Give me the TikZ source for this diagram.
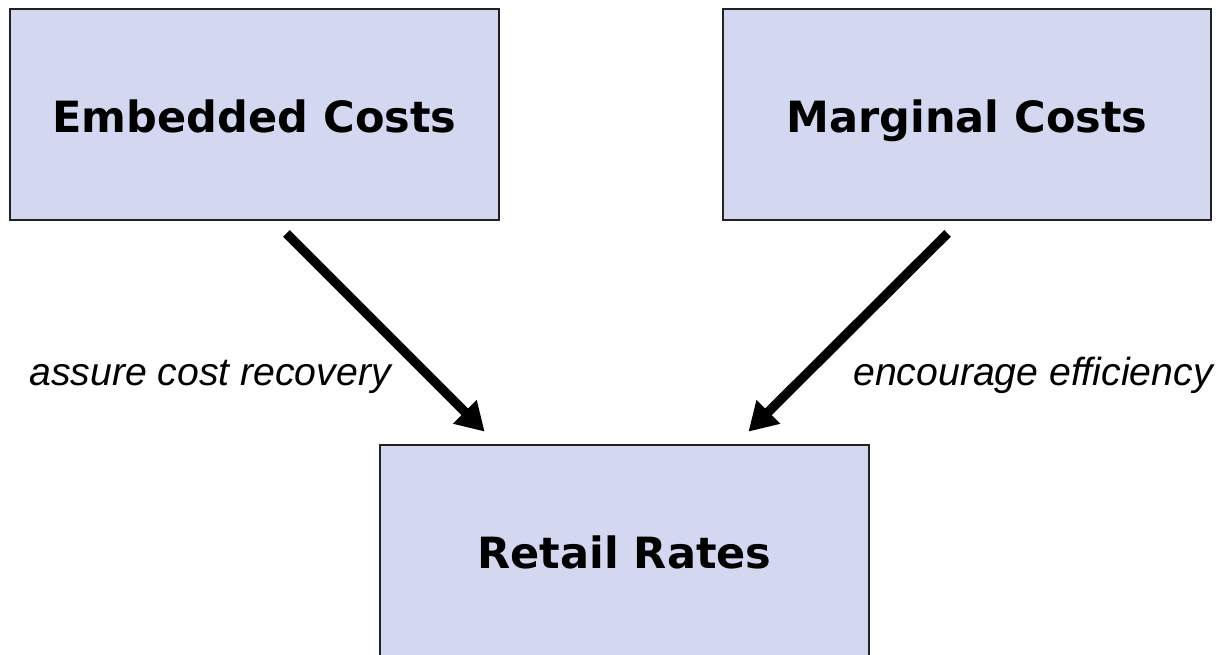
\documentclass[tikz,border=0pt]{standalone}
\usepackage{fontspec}
\setsansfont{DejaVu Sans}
\newfontfamily\notefont{Liberation Sans}
\usepackage{tikz}
\usetikzlibrary{calc,arrows.meta}
\definecolor{boxfill}{HTML}{D3D8F0}
\definecolor{boxline}{HTML}{222222}

\begin{document}
\begin{tikzpicture}[x=0.02cm, y=-0.02cm,
    costbox/.style={draw=boxline, line width=1.1pt, fill=boxfill,
        minimum width=9.78cm, minimum height=4.22cm, inner sep=0pt,
        text height=21pt, text depth=0pt,
        font=\sffamily\bfseries\fontsize{24.5pt}{29pt}\selectfont},
    push/.style={line width=5.3pt, -{Triangle[length=16pt,width=18pt]},
        shorten <=10pt, shorten >=10pt},
    note/.style={anchor=base, font=\notefont\itshape\fontsize{22.3pt}{27pt}\selectfont}]
            \useasboundingbox (0,0) rectangle (1224,654);
            \node[costbox] (emb) at (254.5,114.5) {Embedded Costs};
            \node[costbox, minimum width=9.76cm] (mrg) at (967,114.5) {Marginal Costs};
            \node[costbox] (ret) at (624.5,550.5) {Retail Rates};
            \draw[push] ([xshift=5.3cm]emb.south west) -- ([xshift=2.36cm]ret.north west);
            \draw[push] ([xshift=4.76cm]mrg.south west) -- ([xshift=7.14cm]ret.north west);
            \node[note] (rec) at (210,385) {assure cost recovery};
            \node[note] (eff) at (1033,385) {encourage efficiency};
\end{tikzpicture}
\end{document}
